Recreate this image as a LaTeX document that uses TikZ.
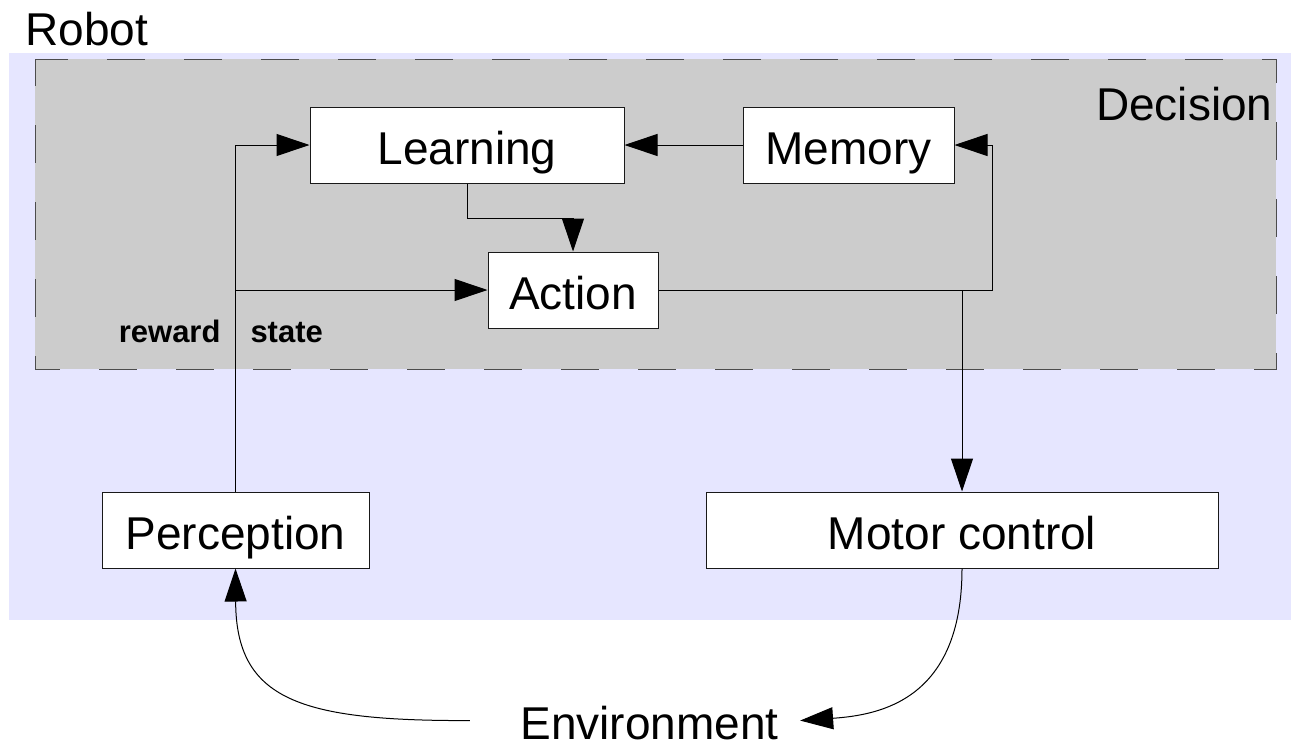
\documentclass[tikz,border=0pt]{standalone}
\usepackage{fontspec}
\setmainfont{Liberation Sans}
\usetikzlibrary{arrows.meta,positioning}
\definecolor{robotblue}{HTML}{E6E6FF}
\definecolor{decgray}{HTML}{CCCCCC}

\begin{document}
\begin{tikzpicture}[x=1pt,y=-1pt,->,>={Triangle[length=33pt,width=22pt]},line width=1pt,
	box/.style={draw=black!90,fill=white,minimum height=76pt,inner sep=0pt,text height=38pt,text depth=0pt,font=\fontsize{46}{50}\selectfont},
	big/.style={inner sep=0pt,font=\fontsize{46}{50}\selectfont},
	lbl/.style={inner sep=0pt,font=\bfseries\fontsize{31}{34}\selectfont}]
	\useasboundingbox (0,0) rectangle (1291,745);
	% robot and decision areas
	\fill[robotblue] (9,53) rectangle (1291,620);
	\draw[-,fill=decgray,draw=black!70,dash pattern=on 38pt off 39pt,dash phase=11pt] (35,59) rectangle (1276,369);
	
	\node[box,minimum width=314pt] (learn) at (467,145) {Learning};
	\node[box,minimum width=211pt] (mem) at (848.5,145) {Memory};
	\node[box,minimum width=170pt] (act) at (573,290) {Action};
	\node[box,minimum width=267pt] (perc) at (235.5,530) {Perception};
	\node[box,minimum width=512pt] (motor) at (962,530) {Motor control};
	\node[big,anchor=base] (env) at (649.5,739) {Environment};
	\node[big,anchor=base west] (robot) at (25,45) {Robot};
	\node[big,anchor=base east] (dec) at (1273,120) {Decision};
	\node[lbl,anchor=base east] (rew) at (221,342) {reward};
	\node[lbl,anchor=base west] (st) at (250,342) {state};
	
	\draw (mem) -- (learn);
	\draw (learn.south) -- ++(0,35) -| (act.north);
	\draw (perc.north) |- (learn.west);
	\draw (perc.north |- act.west) -- (act.west);
	\draw (act.east) -- ++(334,0) |- (mem.east);
	\draw (act.east -| motor.north) -- (motor.north);
	\draw ([xshift=-50pt,yshift=2pt]env.west) .. controls (300,721) and (236,700) .. (perc.south);
	\draw (motor.south) .. controls (962,700) and (880,715) .. ([xshift=21pt,yshift=2pt]env.east);
\end{tikzpicture}
\end{document}
